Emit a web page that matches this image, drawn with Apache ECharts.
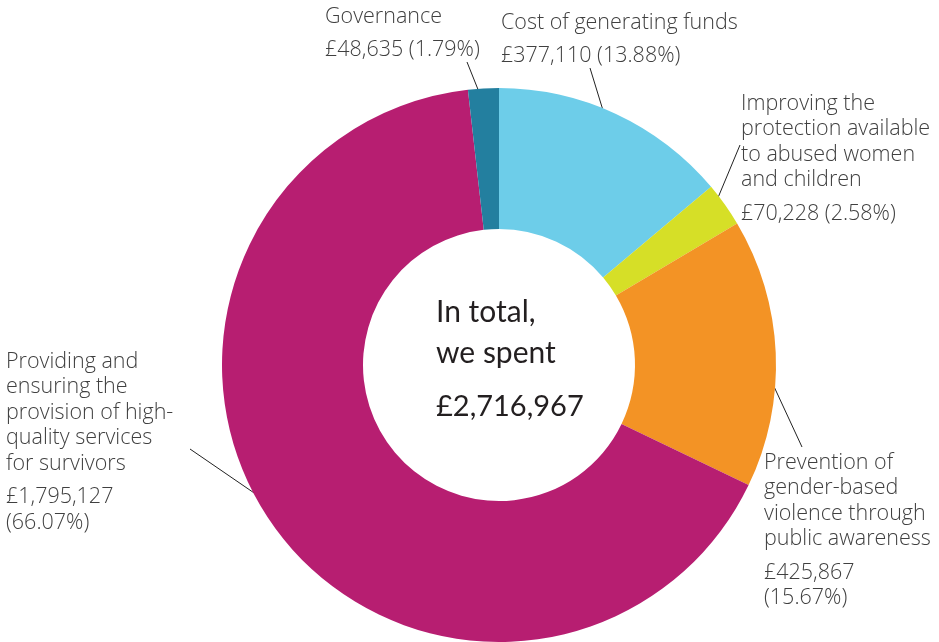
<!DOCTYPE html>
<html>
<head>
<meta charset="utf-8">
<script src="https://cdn.jsdelivr.net/npm/echarts@6/dist/echarts.min.js"></script>
<style>
html,body{margin:0;padding:0;background:#fff;}
#chart{width:939px;height:642px;}
</style>
</head>
<body>
<div id="chart"></div>
<script>
// ---- data ----
const categories = [
  'Cost of generating funds',
  'Improving the\nprotection available\nto abused women\nand children',
  'Prevention of\ngender-based\nviolence through\npublic awareness',
  'Providing and\nensuring the\nprovision of high-\nquality services\nfor survivors',
  'Governance'
];
const amounts = [377110, 70228, 425867, 1795127, 48635];
const colors = ['#6dcde9', '#d6df27', '#f39325', '#b71e71', '#237f9f'];
const centerLines = ['In total,', 'we spent'];

const total = amounts.reduce((a, b) => a + b, 0);
const fmt = n => '£' + n.toLocaleString('en-GB');
const pct = n => (n / total * 100).toFixed(2) + '%';

// label placement (layout only)
const CX = 499, CY = 365, R_IN = 136, R_OUT = 277, R_ANCHOR = 260;
const labelPos = [
  {x: 501, y: 10, end: [590, 68]},
  {x: 741, y: 91, end: [740, 145]},
  {x: 764, y: 450, end: [802, 447]},
  {x: 6, y: 349, end: [190, 449]},
  {x: 325, y: 4, end: [467, 62]}
];
const splitValue = [false, false, true, true, false];

const chart = echarts.init(document.getElementById('chart'), null, {renderer: 'canvas'});
const textColor = '#404040';
const font = '"Open Sans", "Noto Sans", sans-serif';
const cfont = '"Lato", "Open Sans", sans-serif';

chart.setOption({
  animation: false,
  backgroundColor: '#fff',
  title: {
    left: 436, top: 292, padding: 0,
    text: '{a|' + centerLines[0] + '}\n{a|' + centerLines[1] + '}\n{g| }\n{b|' + fmt(total) + '}',
    textStyle: {
      fontWeight: 'normal',
      rich: {
        a: {fontFamily: cfont, fontWeight: 'normal', fontSize: 30, lineHeight: 41, color: '#231f20'},
        g: {fontSize: 2, lineHeight: 12},
        b: {fontFamily: cfont, fontWeight: 'normal', fontSize: 29, lineHeight: 41, color: '#231f20'}
      }
    }
  },
  series: [{
    type: 'pie',
    center: [CX, CY],
    radius: [R_IN, R_OUT],
    startAngle: 90,
    clockwise: true,
    silent: true,
    avoidLabelOverlap: false,
    itemStyle: {borderWidth: 0},
    data: categories.map((c, i) => ({name: c, value: amounts[i], itemStyle: {color: colors[i]}})),
    label: {
      show: true,
      position: 'outside',
      formatter: p => {
        const i = p.dataIndex;
        const v = splitValue[i] ? fmt(amounts[i]) + '\n(' + pct(amounts[i]) + ')' : fmt(amounts[i]) + ' (' + pct(amounts[i]) + ')';
        return '{n|' + categories[i] + '}\n{s| }\n{n|' + v + '}';
      },
      rich: {
        n: {fontFamily: font, fontWeight: 300, fontSize: 21.5, lineHeight: 25.5, color: textColor},
        s: {fontSize: 1, lineHeight: 8}
      }
    },
    labelLine: {show: true, length: 10, length2: 10, lineStyle: {color: '#222', width: 1}},
    labelLayout: params => {
      const i = params.dataIndex;
      const lp = labelPos[i];
      const p0 = params.labelLinePoints[0];
      const dx = p0[0] - CX, dy = p0[1] - CY;
      const d = Math.sqrt(dx * dx + dy * dy) || 1;
      const a = [CX + dx / d * R_ANCHOR, CY + dy / d * R_ANCHOR];
      return {
        x: lp.x, y: lp.y, align: 'left', verticalAlign: 'top',
        labelLinePoints: [a, lp.end, lp.end]
      };
    }
  }]
});
</script>
</body>
</html>
